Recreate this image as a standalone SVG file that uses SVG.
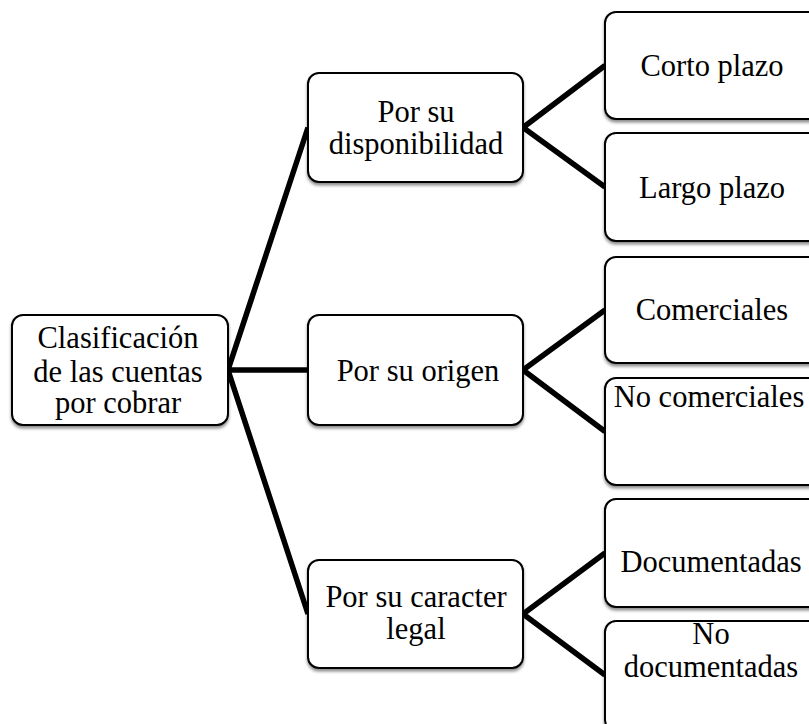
<svg xmlns="http://www.w3.org/2000/svg" width="809" height="724" viewBox="0 0 809 724">
<defs>
<filter id="sh" x="-10%" y="-10%" width="130%" height="130%">
<feDropShadow dx="0" dy="2.5" stdDeviation="1.5" flood-color="#000" flood-opacity="0.45"/>
</filter>
<style>
.box{fill:#fff;stroke:#000;stroke-width:2;filter:url(#sh);}
.t{font-family:"Liberation Serif","Times New Roman",serif;font-size:30.5px;fill:#000;text-anchor:middle;}
.c{stroke:#000;stroke-width:5.5;fill:none;stroke-linecap:butt;stroke-linejoin:miter;}
</style>
</defs>
<rect width="809" height="724" fill="#fff"/>
<g id="connectors">
<path class="c" d="M308,127.5 L228,370 L308,614"/>
<path class="c" d="M228,370 L308,370"/>
<path class="c" d="M605,65.5 L523,127.5 L605,187"/>
<path class="c" d="M605,310 L523,370 L605,431.5"/>
<path class="c" d="M605,553 L523,614 L605,675"/>
</g>
<g id="root">
<rect class="box" x="12" y="315" width="216" height="110" rx="11"/>
<text class="t" x="118" y="348">Clasificación</text>
<text class="t" x="118" y="381.5">de las cuentas</text>
<text class="t" x="118" y="413">por cobrar</text>
</g>
<g id="disponibilidad">
<rect class="box" x="308" y="73" width="215" height="109" rx="11"/>
<text class="t" x="416" y="121.5">Por su</text>
<text class="t" x="416" y="153.5">disponibilidad</text>
</g>
<g id="origen">
<rect class="box" x="308" y="315" width="215" height="110" rx="11"/>
<text class="t" x="418" y="381">Por su origen</text>
</g>
<g id="legal">
<rect class="box" x="308" y="560" width="215" height="108" rx="11"/>
<text class="t" x="416" y="606.5">Por su caracter</text>
<text class="t" x="416" y="638.5">legal</text>
</g>
<g id="corto">
<rect class="box" x="605" y="12" width="220" height="107" rx="11"/>
<text class="t" x="712" y="76">Corto plazo</text>
</g>
<g id="largo">
<rect class="box" x="605" y="133" width="220" height="108" rx="11"/>
<text class="t" x="712" y="198">Largo plazo</text>
</g>
<g id="comerciales">
<rect class="box" x="605" y="257" width="220" height="106" rx="11"/>
<text class="t" x="712" y="320">Comerciales</text>
</g>
<g id="nocomerciales">
<rect class="box" x="605" y="378" width="220" height="107" rx="11"/>
<text class="t" x="709" y="407">No comerciales</text>
</g>
<g id="documentadas">
<rect class="box" x="605" y="499" width="220" height="108" rx="11"/>
<text class="t" x="711" y="572">Documentadas</text>
</g>
<g id="nodocumentadas">
<rect class="box" x="605" y="621" width="220" height="110" rx="11"/>
<text class="t" x="711" y="644">No</text>
<text class="t" x="711" y="677">documentadas</text>
</g>
</svg>
